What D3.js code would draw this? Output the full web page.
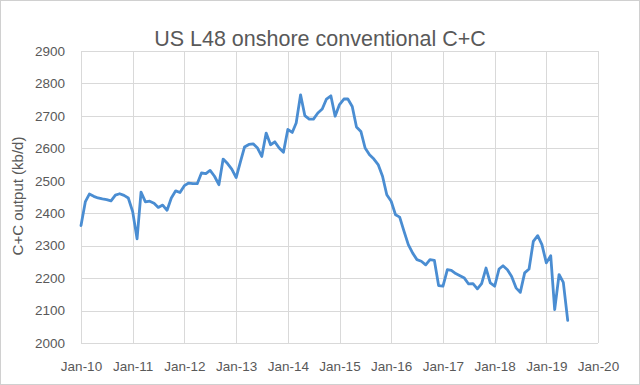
<!DOCTYPE html>
<html>
<head>
<meta charset="utf-8">
<script src="https://cdn.jsdelivr.net/npm/d3@7"></script>
<style>
  body { margin: 0; background: #fff; }
  text { font-family: "Liberation Sans", Arial, sans-serif; }
</style>
</head>
<body>
<div id="chart-area"></div>
<script>
// monthly output, kb/d, one row per year (Jan..Dec), 2019 runs to Jun
var y2010 = [2362, 2436, 2459, 2452, 2447, 2444, 2442, 2438, 2456, 2460, 2455, 2447]
var y2011 = [2405, 2321, 2465, 2435, 2437, 2431, 2418, 2425, 2409, 2447, 2469, 2464]
var y2012 = [2485, 2493, 2491, 2491, 2524, 2522, 2532, 2514, 2488, 2567, 2553, 2536]
var y2013 = [2510, 2560, 2604, 2612, 2614, 2601, 2575, 2647, 2611, 2620, 2601, 2588]
var y2014 = [2658, 2649, 2678, 2765, 2701, 2690, 2690, 2709, 2721, 2752, 2762, 2699]
var y2015 = [2735, 2752, 2752, 2729, 2666, 2652, 2601, 2580, 2567, 2550, 2514, 2457]
var y2016 = [2437, 2395, 2388, 2344, 2303, 2277, 2257, 2252, 2241, 2257, 2255, 2177]
var y2017 = [2175, 2226, 2224, 2214, 2207, 2200, 2182, 2183, 2167, 2183, 2231, 2185]
var y2018 = [2175, 2228, 2238, 2226, 2205, 2170, 2156, 2216, 2228, 2313, 2331, 2303]
var y2019 = [2247, 2269, 2103, 2211, 2187, 2070]

var yTicks = [2000, 2100, 2200, 2300, 2400, 2500, 2600, 2700, 2800, 2900]
var xTickYears = [2010, 2011, 2012, 2013, 2014, 2015, 2016, 2017, 2018, 2019, 2020]

var title = 'US L48 onshore conventional C+C'
var yTitle = 'C+C output (kb/d)'

// put the years together, first value is Jan-10
var values = [].concat(y2010, y2011, y2012, y2013, y2014, y2015, y2016, y2017, y2018, y2019)
var data = values.map(function(v, i){
	return {date: new Date(2010, i, 1), value: v}
})

var W = 640, H = 385
var margin = {left: 81, right: 42, top: 51, bottom: 42}
var width = W - margin.left - margin.right
var height = H - margin.top - margin.bottom

var svg = d3.select('#chart-area').append('svg')
	.attr('width', W)
	.attr('height', H)

// outer chart border
svg.append('rect')
	.attr('x', 0.5).attr('y', 0.5)
	.attr('width', W - 1).attr('height', H - 1)
	.attr('fill', '#fff')
	.attr('stroke', '#d0d0d0')

var group = svg.append('g')
	.attr('transform', 'translate(' + margin.left + ',' + margin.top + ')')

//scales
var xScale = d3.scaleTime()
	.domain([new Date(2010, 0, 1), new Date(2020, 0, 1)])
	.range([0, width])

var yScale = d3.scaleLinear()
	.domain([2000, 2900])
	.range([height, 0])

var xTicks = xTickYears.map(function(y){ return new Date(y, 0, 1) })
var fmt = d3.timeFormat('%b-%y')

// gridlines, both directions
var xAxis = d3.axisBottom(xScale)
	.tickValues(xTicks)
	.tickSize(-height)
	.tickPadding(18)
	.tickFormat(fmt)

var yAxis = d3.axisLeft(yScale)
	.tickValues(yTicks)
	.tickSize(-width)
	.tickPadding(16)
	.tickFormat(d3.format('d'))

var gx = group.append('g')
	.attr('transform', 'translate(0,' + height + ')')
	.call(xAxis)

var gy = group.append('g')
	.call(yAxis)

;[gx, gy].forEach(function(g){
	g.select('.domain').remove()
	g.selectAll('line')
		.attr('stroke', '#d9d9d9')
		.attr('stroke-width', 1)
		.attr('shape-rendering', 'crispEdges')
	g.selectAll('text')
		.attr('fill', '#595959')
		.attr('font-size', '13.5px')
})

// the series
var line = d3.line()
	.x(function(d){ return xScale(d.date) })
	.y(function(d){ return yScale(d.value) })

group.append('path')
	.datum(data)
	.attr('d', line)
	.attr('fill', 'none')
	.attr('stroke', '#4a8dd2')
	.attr('stroke-width', 2.8)
	.attr('stroke-linejoin', 'round')
	.attr('stroke-linecap', 'round')

// title
svg.append('text')
	.attr('x', W / 2)
	.attr('y', 46)
	.attr('text-anchor', 'middle')
	.attr('font-size', '21.5px')
	.attr('fill', '#595959')
	.text(title)

// y label
svg.append('text')
	.attr('transform', 'rotate(-90)')
	.attr('x', -196)
	.attr('y', 23)
	.attr('text-anchor', 'middle')
	.attr('font-size', '15px')
	.attr('fill', '#595959')
	.text(yTitle)
</script>
</body>
</html>
